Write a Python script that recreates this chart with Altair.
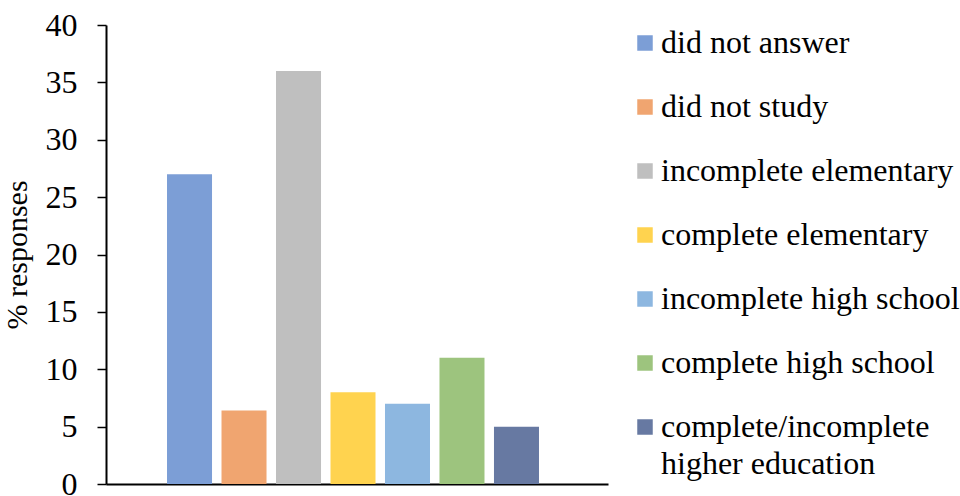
import altair as alt
import pandas as pd

categories = [
    "did not answer",
    "did not study",
    "incomplete elementary",
    "complete elementary",
    "incomplete high school",
    "complete high school",
    "complete/incomplete higher education",
]
values = [27, 6.4, 36, 8, 7, 11, 5]
colors = ["#7C9ED6", "#F0A570", "#BFBFBF", "#FFD34F", "#8DB7E0", "#9DC47E", "#6779A2"]
y_ticks = [0, 5, 10, 15, 20, 25, 30, 35, 40]

df = pd.DataFrame({"category": categories, "value": values})

# empty slots on both sides of the cluster (as in the original category axis)
x_domain = ["_left"] + categories + ["_right"]

FONT = "Liberation Serif"

label_expr = (
    "datum.label == 'complete/incomplete higher education' "
    "? ['complete/incomplete', 'higher education'] : datum.label"
)

chart = (
    alt.Chart(df)
    .mark_bar()
    .encode(
        x=alt.X(
            "category:N",
            scale=alt.Scale(domain=x_domain, paddingInner=0.174, paddingOuter=0.193, align=0.31),
            axis=alt.Axis(
                title=None,
                labels=False,
                ticks=False,
                domainColor="black",
                domainWidth=2,
            ),
        ),
        y=alt.Y(
            "value:Q",
            scale=alt.Scale(domain=[0, 40], nice=False),
            axis=alt.Axis(
                title="% responses",
                values=y_ticks,
                grid=False,
                domainColor="black",
                domainWidth=2,
                tickColor="black",
                tickWidth=1.5,
                tickSize=9,
                labelFont=FONT,
                labelFontSize=32,
                labelColor="black",
                labelPadding=20,
                labelFlush=False,
                titleFont=FONT,
                titleFontSize=30,
                titleFontWeight="normal",
                titleColor="black",
                titleAngle=270,
                titleAlign="center",
                titleBaseline="alphabetic",
                titleX=-80,
                titleY=229.5,
            ),
        ),
        color=alt.Color(
            "category:N",
            sort=categories,
            scale=alt.Scale(domain=categories, range=colors),
            legend=alt.Legend(
                title=None,
                orient="none",
                legendX=520,
                legendY=2,
                padding=0,
                symbolType="square",
                symbolSize=240,
                symbolStrokeWidth=0,
                symbolOffset=3,
                labelFont=FONT,
                labelFontSize=32,
                labelColor="black",
                labelOffset=0,
                labelLimit=400,
                rowPadding=32,
                labelExpr=label_expr,
            ),
        ),
    )
    .properties(
        width=502,
        height=459,
        autosize="none",
        padding={"left": 106, "top": 25, "right": 352, "bottom": 12},
        background="white",
    )
    .configure(
        style={"guide-label": {"lineHeight": 37}},
        view=alt.ViewConfig(stroke=None),
    )
)

chart.save("out.html", embed_options={"renderer": "svg", "actions": False})
